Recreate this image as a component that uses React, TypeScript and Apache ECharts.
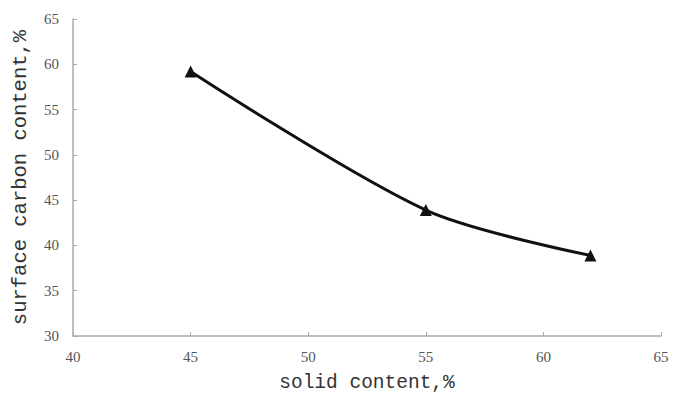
import React, { useEffect, useRef } from "react";
import * as echarts from "echarts";

const solidContent = [45, 55, 62];
const surfaceCarbon = [59.2, 43.9, 38.9];
const xTicks = [40, 45, 50, 55, 60, 65];
const yTicks = [30, 35, 40, 45, 50, 55, 60, 65];

export default function App() {
  const ref = useRef<HTMLDivElement>(null);
  useEffect(() => {
    const chart = echarts.init(ref.current!, null, { renderer: "svg" });
    chart.setOption({
      animation: false,
      backgroundColor: "#fff",
      grid: { left: 73, right: 14, top: 19, bottom: 65, outerBoundsMode: "none", containLabel: false },
      xAxis: {
        type: "value",
        min: xTicks[0],
        max: xTicks[xTicks.length - 1],
        interval: 5,
        name: "solid content,%",
        nameLocation: "middle",
        nameGap: 37,
        nameTextStyle: { fontFamily: "Liberation Mono", fontSize: 19.5, color: "#333" },
        axisLine: { lineStyle: { color: "#aaa", width: 1.5 } },
        axisTick: { inside: true, length: 4, lineStyle: { color: "#aaa" } },
        axisLabel: { fontFamily: "Liberation Serif", fontSize: 15, color: "#555", margin: 13 },
        splitLine: { show: false },
      },
      yAxis: {
        type: "value",
        min: yTicks[0],
        max: yTicks[yTicks.length - 1],
        interval: 5,
        name: "surface carbon content,%",
        nameLocation: "middle",
        nameGap: 42,
        nameTextStyle: { fontFamily: "Liberation Mono", fontSize: 20.5, color: "#333" },
        axisLine: { show: true, lineStyle: { color: "#aaa", width: 1.5 } },
        axisTick: { show: true, inside: true, length: 4, lineStyle: { color: "#aaa" } },
        axisLabel: { fontFamily: "Liberation Serif", fontSize: 15, color: "#555", margin: 14 },
        splitLine: { show: false },
      },
      series: [
        {
          type: "line",
          data: solidContent.map((x, i) => [x, surfaceCarbon[i]]),
          smooth: 0.3,
          symbol: "triangle",
          symbolSize: 12,
          itemStyle: { color: "#111" },
          lineStyle: { color: "#111", width: 3 },
        },
      ],
    });
    return () => chart.dispose();
  }, []);
  return (
    <div
      ref={ref}
      style={{ position: "absolute", left: 0, top: 0, width: 675, height: 401 }}
    />
  );
}
